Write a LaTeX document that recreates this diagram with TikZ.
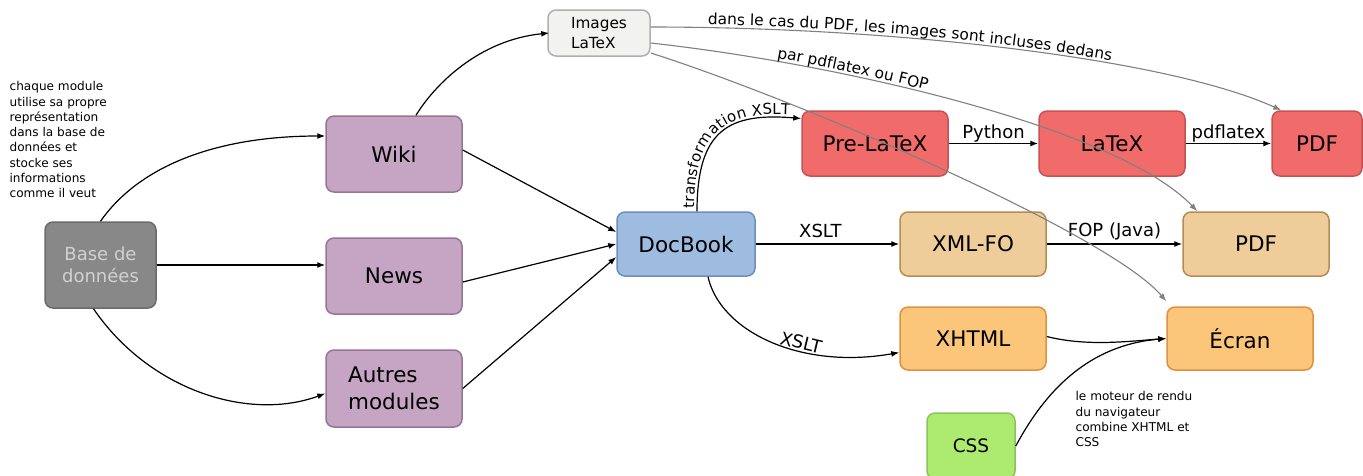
\documentclass[tikz,border=0pt]{standalone}
\usepackage{fontspec}
\setmainfont{DejaVu Sans}
\usetikzlibrary{arrows.meta,decorations.text}

\definecolor{mauve}{HTML}{C6A5C4}\definecolor{mauveline}{HTML}{957596}
\definecolor{rouge}{HTML}{F26B6B}\definecolor{rougeline}{HTML}{C55353}
\definecolor{beige}{HTML}{EFCD9B}\definecolor{beigeline}{HTML}{B58D50}
\definecolor{orange}{HTML}{FCC67A}\definecolor{orangeline}{HTML}{E0913F}
\definecolor{vert}{HTML}{ADEA70}\definecolor{vertline}{HTML}{8CC35C}
\definecolor{bleu}{HTML}{9DBCDF}\definecolor{bleuline}{HTML}{6D8FC0}
\definecolor{gris}{HTML}{888888}\definecolor{grisline}{HTML}{6B6B6B}
\definecolor{blanc}{HTML}{F2F2F0}\definecolor{blancline}{HTML}{AFAFAF}
\definecolor{fleche}{HTML}{808080}

\newcommand\boxfont{\fontsize{21.5}{27}\selectfont}
\newcommand\edgefont{\fontsize{18}{22}\selectfont}
\newcommand\curvefont{\fontsize{15.4}{18}\selectfont}
\newcommand\annotfont{\fontsize{12.1}{15.3}\selectfont}

\begin{document}
\begin{tikzpicture}[x=1pt,y=-1pt,>={Latex[length=8pt,width=6pt]},->,line width=1.2pt,
  box/.style={draw,rounded corners=8pt,line width=1.5pt,inner sep=0pt,align=center,font=\boxfont},
  module/.style={box,fill=mauve,draw=mauveline,minimum width=136pt,minimum height=76pt},
  latexbox/.style={box,fill=rouge,draw=rougeline,minimum width=146pt,minimum height=65pt},
  fobox/.style={box,fill=beige,draw=beigeline,minimum width=146pt,minimum height=64pt},
  webbox/.style={box,fill=orange,draw=orangeline,minimum width=146pt,minimum height=63pt},
  lbl/.style={font=\edgefont,inner sep=1pt},
  note/.style={font=\annotfont,align=left,inner sep=0pt,anchor=north west},
  grey/.style={draw=fleche,line width=1.1pt}]
\useasboundingbox (0,0) rectangle (1363,475);

% sources
\node[box,fill=gris,draw=grisline,text=black!18,font=\fontsize{18}{22}\selectfont,
  minimum width=111pt,minimum height=86pt] (base) at (100.5,265) {Base de\\données};
\node[module] (wiki) at (394,154) {Wiki};
\node[module] (news) at (394,276) {News};
\node[module,minimum height=77pt,align=left] (autres) at (394,388.5) {Autres\\modules};
\node[box,fill=blanc,draw=blancline,align=left,font=\fontsize{15.3}{20}\selectfont,
  minimum width=102pt,minimum height=46pt] (images) at (599,33) {Images\\LaTeX};
\node[box,fill=bleu,draw=bleuline,minimum width=138pt,minimum height=64pt] (docbook) at (686,244) {DocBook};

% sorties
\node[latexbox] (prelatex) at (875,143.5) {Pre-LaTeX};
\node[latexbox] (latex) at (1112,143.5) {LaTeX};
\node[latexbox,minimum width=90pt] (pdfa) at (1317,143.5) {PDF};
\node[fobox] (xmlfo) at (973,244) {XML-FO};
\node[fobox] (pdfb) at (1256,244) {PDF};
\node[webbox] (xhtml) at (973,338.5) {XHTML};
\node[webbox] (ecran) at (1240,338.5) {Écran};
\node[box,fill=vert,draw=vertline,font=\fontsize{18.5}{22}\selectfont,
  minimum width=88pt,minimum height=66pt] (css) at (971,446) {CSS};

\node[note] (notebase) at (9,81) {chaque module\\utilise sa propre\\représentation\\dans la base de\\données et\\stocke ses\\informations\\comme il veut};
\node[note] (notecss) at (1075,391) {le moteur de rendu\\du navigateur\\combine XHTML et\\CSS};

% base -> modules -> docbook
\draw (base.north) .. controls +(40,-57) and +(-106,0) .. ([yshift=18pt]wiki.west);
\draw (base.east) -- (base.east -| news.west);
\draw ([xshift=-7pt]base.south) .. controls +(56,82) and +(-76,28) .. ([yshift=-5pt]autres.west);
\draw ([xshift=22pt]wiki.north) .. controls +(19,-31) and +(-70,7) .. ([xshift=2pt]images.west);
\draw ([yshift=4pt]wiki.east) -- ([yshift=12pt]docbook.west);
\draw ([yshift=-6pt]news.east) -- (docbook.west);
\draw (autres.east) -- ([yshift=-13pt]docbook.west);

% chaines de sortie
\draw ([xshift=11pt]docbook.north) .. controls +(0,-82) and +(-72,-6) .. ([yshift=25pt]prelatex.west)
  [postaction={decorate,decoration={text along path,raise=3pt,text align={left indent=3pt},
  text={|\fontsize{15}{17}\selectfont|transformation XSLT}}}];
\draw (prelatex) -- node[lbl,above] {Python} (latex);
\draw (latex) -- node[lbl,above] {pdflatex} (pdfa);
\draw (docbook.east) -- node[lbl,above=5pt,pos=.45] {XSLT} (xmlfo.west);
\draw (xmlfo) -- node[lbl,above=2pt] {FOP (Java)} (pdfb);
\draw ([xshift=22pt]docbook.south) .. controls +(12,54) and +(-100,17.5) .. node[lbl,sloped,above,pos=.63] {XSLT} ([yshift=-14pt]xhtml.west);
\draw ([yshift=2pt]xhtml.east) .. controls +(40,10) and +(-40,3) .. (ecran.west);
\draw (css.east) .. controls +(30,-56) and +(-77,6.5) .. (ecran.west);

% images
\draw[grey] ([yshift=6pt]images.east) .. controls +(248,0) and +(-112,-51) .. ([xshift=10pt]pdfa.north west)
  [postaction={decorate,decoration={text along path,raise=3pt,text align={left indent=57pt},
  text={|\curvefont|dans le cas du PDF, les images sont incluses dedans}}}];
\draw[grey] ([yshift=-10pt]images.east) .. controls +(198,22) and +(-78,-82) .. ([xshift=15pt]pdfb.north west)
  [postaction={decorate,decoration={text along path,raise=3pt,text align={left indent=127pt},
  text={|\curvefont|par pdflatex ou FOP}}}];
\draw[grey] ([yshift=-20pt]images.east) .. controls +(148,47) and +(-57,-67) .. ([yshift=5pt]ecran.north west);
\end{tikzpicture}
\end{document}
